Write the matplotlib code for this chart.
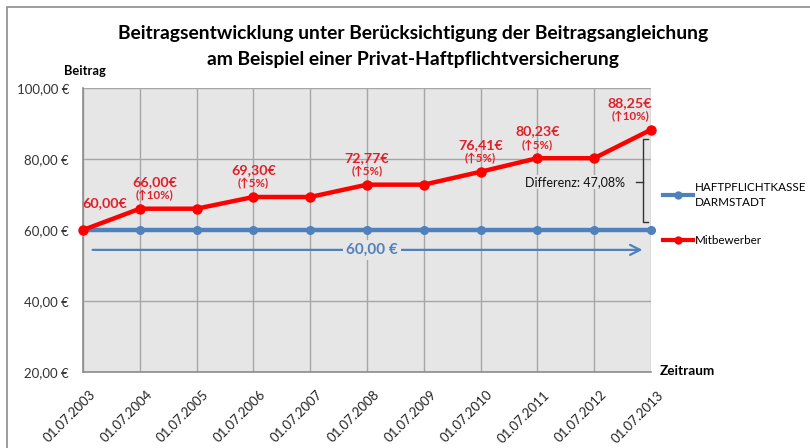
import matplotlib
matplotlib.use("Agg")
import matplotlib.pyplot as plt
from matplotlib.patches import Rectangle
from matplotlib.lines import Line2D
from matplotlib.transforms import ScaledTranslation

dates = ["01.07.2003", "01.07.2004", "01.07.2005", "01.07.2006", "01.07.2007",
         "01.07.2008", "01.07.2009", "01.07.2010", "01.07.2011", "01.07.2012", "01.07.2013"]
haftpflichtkasse = [60, 60, 60, 60, 60, 60, 60, 60, 60, 60, 60]
mitbewerber = [60.00, 66.00, 66.00, 69.30, 69.30, 72.77, 72.77, 76.41, 80.23, 80.23, 88.25]
yticks = [20, 40, 60, 80, 100]
ytick_labels = ["20,00 €", "40,00 €", "60,00 €", "80,00 €", "100,00 €"]
# annotations: index, value label, increase label
annot_idx = [1, 3, 5, 7, 8, 10]
annot_val = ["66,00€", "69,30€", "72,77€", "76,41€", "80,23€", "88,25€"]
annot_pct = ["(↑10%)", "(↑5%)", "(↑5%)", "(↑5%)", "(↑5%)", "(↑10%)"]
start_label = "60,00€"
arrow_label = "60,00 €"
diff_label = "Differenz: 47,08%"

# style: horizontal pixel offsets of the annotations
annot_dx_px = [15, 0, 0, 0, 0, -21]

FONT = ["Lato", "DejaVu Sans"]
plt.rcParams["font.family"] = FONT

RED = "#FF0000"
BLUE = "#4F81BD"
LBL = "#E0202A"
PT = 0.72  # points per pixel at dpi 100

fig = plt.figure(figsize=(8.1, 4.48), dpi=100)
fig.patch.set_facecolor("white")
# outer border
fig.add_artist(Rectangle((7/810, -0.1), 1.2, 1 - 7/448 + 0.1, transform=fig.transFigure,
                         fill=False, edgecolor="#8C8C8C", linewidth=1.2))

ax = fig.add_axes([83/810, 1 - 372/448, (651 - 83)/810, (372 - 88)/448])
ax.set_facecolor("#E6E6E6")
x = list(range(len(dates)))
ax.plot(x, haftpflichtkasse, color=BLUE, lw=3.2, marker="o", ms=5.5, zorder=4, clip_on=False)
ax.plot(x, mitbewerber, color=RED, lw=3.2, marker="o", ms=6.5, zorder=5, clip_on=False)

ax.set_xlim(0, len(dates) - 1)
ax.set_ylim(20, 100)
ax.set_yticks(yticks)
ax.set_yticklabels(ytick_labels, fontsize=9.5, color="#333333")
ax.set_xticks(x)
ax.set_xticklabels(dates, rotation=45, ha="right", rotation_mode="anchor", fontsize=9.5, color="#222222")
ax.tick_params(length=0, pad=10)
ax.tick_params(axis="x", pad=12)
shift = ScaledTranslation(6 / 100, 0, fig.dpi_scale_trans)
for lbl in ax.get_xticklabels():
    lbl.set_transform(lbl.get_transform() + shift)
ax.grid(True, color="#A6A6A6", lw=1)
ax.set_axisbelow(True)
for s in ["top", "right"]:
    ax.spines[s].set_visible(False)
for s in ["left", "bottom"]:
    ax.spines[s].set_color("#8C8C8C")
    ax.spines[s].set_linewidth(1.2)

# annotations
ax.annotate(start_label, (0, mitbewerber[0]), xytext=(22 * PT, 27 * PT), textcoords="offset points",
            ha="center", va="center", color=LBL, fontsize=10.3, fontweight="bold")
for i, v, p, dx in zip(annot_idx, annot_val, annot_pct, annot_dx_px):
    ax.annotate(v, (i, mitbewerber[i]), xytext=(dx * PT, 27 * PT), textcoords="offset points",
                ha="center", va="center", color=LBL, fontsize=10.3, fontweight="bold")
    ax.annotate(p, (i, mitbewerber[i]), xytext=(dx * PT, 13 * PT), textcoords="offset points",
                ha="center", va="center", color=LBL, fontsize=8.3, fontweight="bold")

# blue arrow with label
ax.annotate("", xy=(9.9, 54.4), xytext=(0.12, 54.4),
            arrowprops=dict(arrowstyle="->", color=BLUE, lw=1.6, mutation_scale=18))
ax.text((372 - 83) / 56.8, 54.4, arrow_label, ha="center", va="center", color=BLUE, fontsize=11,
        fontweight="bold", bbox=dict(facecolor="#E6E6E6", edgecolor="none", pad=2))

# bracket
bx = (643 - 83) / 56.8
ax.plot([bx + 0.09, bx, bx, bx + 0.09], [85.6, 85.6, 62.3, 62.3], color="#333333", lw=1,
        clip_on=False, zorder=6)
ax.plot([bx - 0.12, bx], [73.5, 73.5], color="#333333", lw=1, zorder=6)
ax.text((625 - 83) / 56.8, 73.5, diff_label, ha="right", va="center", fontsize=9, color="#111111",
        bbox=dict(facecolor="#E6E6E6", edgecolor="none", pad=1))

# axis titles
fig.text(85/810, 1 - 71/448, "Beitrag", ha="center", va="center", fontsize=9.3, fontweight="bold")
fig.text(660/810, 1 - 371/448, "Zeitraum", ha="left", va="center", fontsize=9.8, fontweight="bold")

# title
fig.text(413/810, 1 - 33/448, "Beitragsentwicklung unter Berücksichtigung der Beitragsangleichung",
         ha="center", va="center", fontsize=13.9, fontweight="bold")
fig.text(413/810, 1 - 59/448, "am Beispiel einer Privat-Haftpflichtversicherung",
         ha="center", va="center", fontsize=13.9, fontweight="bold")

# legend
handles = [Line2D([], [], color=BLUE, lw=3, marker="o", ms=5),
           Line2D([], [], color=RED, lw=3, marker="o", ms=5)]
leg = fig.legend(handles, ["HAFTPFLICHTKASSE\nDARMSTADT", "Mitbewerber"],
                 loc="upper left", bbox_to_anchor=(658/810, 1 - 177/448), frameon=False,
                 fontsize=8.4, handlelength=2.6, handletextpad=0.15, labelspacing=2.3,
                 borderaxespad=0)
leg.get_texts()[0].set_linespacing(1.5)

fig.savefig("out.png", dpi=100)
